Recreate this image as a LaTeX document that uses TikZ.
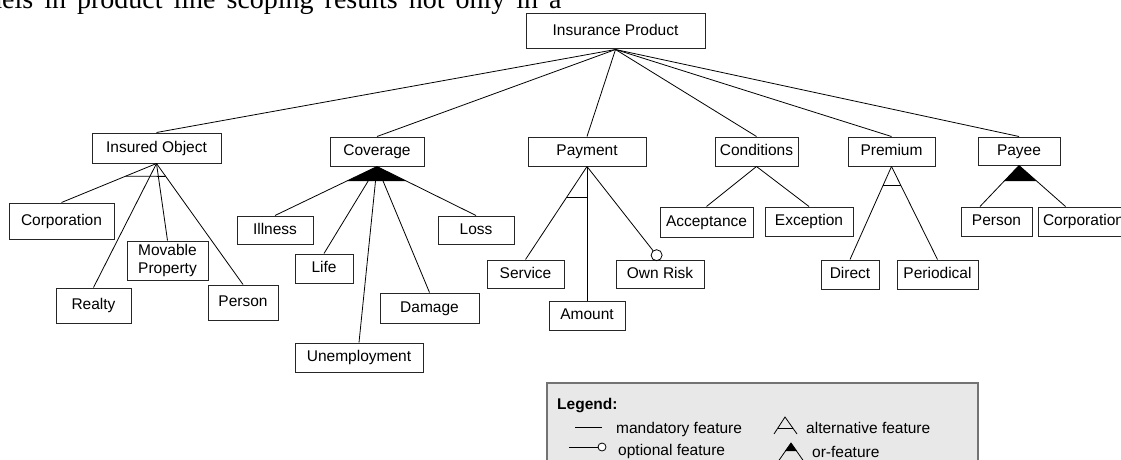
\documentclass[tikz,border=0pt]{standalone}
\usepackage{fontspec}
\setmainfont{Liberation Sans}
\newfontfamily\bodyserif{Liberation Serif}
\usetikzlibrary{calc}
\begin{document}
\begin{tikzpicture}[x=1pt,y=-1pt,
  feat/.style={draw=black!85, line width=1pt, fill=white, inner sep=0pt,
    align=center, font=\fontsize{15.5}{18.5}\selectfont,
    text height=11.3pt, text depth=3.3pt},
  link/.style={line width=0.8pt, draw=black},
  legtext/.style={anchor=west, inner sep=0pt, font=\fontsize{15.5}{18.5}\selectfont,
    text height=11.3pt, text depth=3.3pt},
]
\useasboundingbox (0,0) rectangle (1121,460);

% running text line above the figure
\node[anchor=base west, inner sep=0pt, font=\bodyserif\fontsize{28}{30}\selectfont]
  (intro) at (-12,8.5) {\spaceskip=11pt dels in product line scoping results not only in a};

% feature nodes
\node[feat, minimum width=179pt, minimum height=35pt] (root) at (615.5,31.5) {Insurance Product};

\node[feat, minimum width=129pt, minimum height=30pt] (insobj) at (156.5,148) {Insured Object};
\node[feat, minimum width=105pt, minimum height=36pt] (corp) at (61.5,221) {Corporation};
\node[feat, minimum width=81pt, minimum height=39pt, text height={}, text depth={}]
  (movable) at (167.5,260.5) {Movable\\Property};
\node[feat, minimum width=75pt, minimum height=35pt] (realty) at (93.5,305.5) {Realty};
\node[feat, minimum width=70pt, minimum height=35pt] (personA) at (243,302.5) {Person};

\node[feat, minimum width=94pt, minimum height=29pt] (coverage) at (377,151.5) {Coverage};
\node[feat, minimum width=76pt, minimum height=28pt] (illness) at (275,230) {Illness};
\node[feat, minimum width=58pt, minimum height=29pt] (life) at (324,268.5) {Life};
\node[feat, minimum width=76pt, minimum height=28pt] (loss) at (476,230) {Loss};
\node[feat, minimum width=99pt, minimum height=30pt] (damage) at (429.5,308) {Damage};
\node[feat, minimum width=128pt, minimum height=29pt] (unemp) at (359,357.5) {Unemployment};

\node[feat, minimum width=118pt, minimum height=29pt] (payment) at (587,151.5) {Payment};
\node[feat, minimum width=77pt, minimum height=28pt] (service) at (525.5,274) {Service};
\node[feat, minimum width=76pt, minimum height=29pt] (amount) at (587,315.5) {Amount};
\node[feat, minimum width=88pt, minimum height=28pt] (ownrisk) at (660,274) {Own Risk};

\node[feat, minimum width=83pt, minimum height=29pt] (conditions) at (756.5,151.5) {Conditions};
\node[feat, minimum width=93pt, minimum height=30pt] (acceptance) at (706.5,222) {Acceptance};
\node[feat, minimum width=88pt, minimum height=29pt] (exception) at (809,221.5) {Exception};

\node[feat, minimum width=87pt, minimum height=29pt] (premium) at (891.5,151.5) {Premium};
\node[feat, minimum width=58pt, minimum height=29pt] (direct) at (850,274.5) {Direct};
\node[feat, minimum width=81pt, minimum height=29pt] (periodical) at (937.5,274.5) {Periodical};

\node[feat, minimum width=82pt, minimum height=28pt] (payee) at (1019,151) {Payee};
\node[feat, minimum width=71pt, minimum height=29pt] (personB) at (996.5,221.5) {Person};
\node[feat, minimum width=91pt, minimum height=29pt] (corpB) at (1083.5,221.5) {Corporation};

% root decomposition (mandatory)
\foreach \c in {insobj,coverage,payment,conditions,premium,payee}
  \draw[link] (root.south) -- (\c.north);

% Insured Object: alternative group
\foreach \c in {corp,realty,movable,personA}
  \draw[link] (insobj.south) -- (\c.north);
\draw[link] ($(insobj.south)!0.325!(corp.north)$) -- ($(insobj.south)!0.1066!(personA.north)$);

% Coverage: or-group
\foreach \c in {illness,life,unemp,damage,loss}
  \draw[link] (coverage.south) -- (\c.north);
\fill (coverage.south) -- ($(coverage.south)!0.3!(illness.north)$)
  -- ($(coverage.south)!0.3!(loss.north)$) -- cycle;

% Payment: alternative between Service and Amount, optional Own Risk
\draw[link] (payment.south) -- (service.north);
\draw[link] (payment.south) -- (amount.north);
\coordinate (payalt) at ($(payment.south)!0.33!(service.north)$);
\draw[link] (payalt) -- (payalt -| amount.north);
\draw[link] (payment.south) -- ($(ownrisk.north)!11pt!(payment.south)$);
\draw[link, fill=white] ($(ownrisk.north)!5.5pt!(payment.south)$) circle (5.5pt);

% Conditions: mandatory children
\draw[link] (conditions.south) -- (acceptance.north);
\draw[link] (conditions.south) -- (exception.north);

% Premium: alternative group
\draw[link] (premium.south) -- (direct.north);
\draw[link] (premium.south) -- (periodical.north);
\draw[link] ($(premium.south)!0.202!(direct.north)$) -- ($(premium.south)!0.202!(periodical.north)$);

% Payee: or-group
\coordinate (payeeP) at ($(personB.north west)+(19.5,0)$);
\coordinate (payeeC) at ($(corpB.north west)+(28,0)$);
\draw[link] (payee.south) -- (payeeP);
\draw[link] (payee.south) -- (payeeC);
\fill (payee.south) -- ($(payee.south)!0.381!(payeeP)$) -- ($(payee.south)!0.381!(payeeC)$) -- cycle;

% legend
\draw[draw=black!55, fill=black!9, line width=1.2pt] (547,383) rectangle (978,470);
\node[legtext, font=\bfseries\fontsize{15.5}{18.5}\selectfont] (leghead) at (557,405) {Legend:};
\draw[link] (575,427) -- (602,427);
\node[legtext] (legmand) at (616,429) {mandatory feature};
\draw[link] (569,447) -- (598,447);
\draw[link, fill=white] (602,447) circle (4pt);
\node[legtext] (legopt) at (618,451) {optional feature};
\draw[link] (774,434) -- (785,417) -- (797,434);
\draw[link] (778,428) -- (792.8,428);
\node[legtext] (legalt) at (806,429) {alternative feature};
\fill (791,443) -- (785,451) -- (797,451) -- cycle;
\draw[link] (778.5,461) -- (791,443) -- (803.5,461);
\node[legtext] (legor) at (812,453) {or-feature};
\end{tikzpicture}
\end{document}
